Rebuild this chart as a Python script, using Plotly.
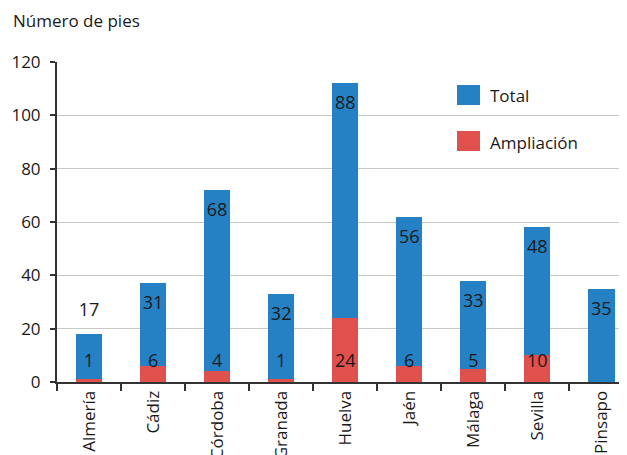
import plotly.graph_objects as go

provincias = ["Almería", "Cádiz", "Córdoba", "Granada", "Huelva", "Jaén", "Málaga", "Sevilla", "Pinsapo"]
ampliacion = [1, 6, 4, 1, 24, 6, 5, 10, 0]
total = [17, 31, 68, 32, 88, 56, 33, 48, 35]
y_ticks = [0, 20, 40, 60, 80, 100, 120]

BLUE = "#2581c4"
RED = "#e0514d"
TXT = "#1a1a1a"
FONT = "Open Sans"

fig = go.Figure()
fig.add_trace(go.Bar(x=provincias, y=ampliacion, name="Ampliación", marker_color=RED,
                     marker_line_width=0, showlegend=False))
fig.add_trace(go.Bar(x=provincias, y=total, name="Total", marker_color=BLUE,
                     marker_line_width=0, showlegend=False))

# value labels
red_pos = [7.5 for _ in ampliacion]
red_txt = [str(v) if v > 0 else "" for v in ampliacion]
blue_pos = []
for a, t in zip(ampliacion, total):
    top = a + t
    p = top - 8
    if a > 0 and p - 7.5 < 8:
        p = top + 8.5
    blue_pos.append(p)

fig.add_trace(go.Scatter(x=provincias, y=red_pos, text=red_txt, mode="text",
                         textfont=dict(size=18, color=TXT, family=FONT), showlegend=False,
                         hoverinfo="skip", cliponaxis=False))
fig.add_trace(go.Scatter(x=provincias, y=blue_pos, text=[str(v) for v in total], mode="text",
                         textfont=dict(size=18, color=TXT, family=FONT), showlegend=False,
                         hoverinfo="skip", cliponaxis=False))

# page body has an 8px margin; figure coordinates are offset by it
OFF = 8
W, H = 627 - OFF, 455 - OFF
L, T = 57 - OFF, 62 - OFF
B = H - (382 - OFF)

def px_x(x):
    return (x - OFF - L) / (W - L)

def px_y(y):
    return 1 - (y - OFF - T) / (H - T - B)

shapes = []
annotations = []
for (name, col, yc) in [("Total", BLUE, 95), ("Ampliación", RED, 141)]:
    shapes.append(dict(type="rect", xref="paper", yref="paper",
                       x0=px_x(457), x1=px_x(480), y0=px_y(yc - 10), y1=px_y(yc + 10),
                       fillcolor=col, line_width=0))
    annotations.append(dict(text=name, xref="paper", yref="paper", x=px_x(488), y=px_y(yc + 1),
                            xanchor="left", yanchor="middle", showarrow=False,
                            font=dict(size=17, color=TXT, family=FONT)))

fig.update_layout(
    width=W, height=H,
    margin=dict(l=L, r=0, t=T, b=B, autoexpand=False),
    barmode="stack", bargap=0.59,
    plot_bgcolor="white", paper_bgcolor="white",
    font=dict(family=FONT, size=16, color=TXT),
    title=dict(text="Número de pies", xref="container", yref="container",
               x=(13 - OFF) / W, y=1 - (21 - OFF) / H, xanchor="left", yanchor="middle",
               font=dict(size=17, color=TXT, family=FONT)),
    shapes=shapes, annotations=annotations,
    showlegend=False,
)
fig.update_xaxes(range=[-0.5, 8.4], tickangle=-90, tickson="boundaries", ticks="outside",
                 ticklen=7, tickwidth=1.5, tickcolor="#333", showline=True, linecolor="#333",
                 linewidth=2, showgrid=False, automargin=False,
                 tickfont=dict(size=17, color=TXT, family=FONT))
fig.update_yaxes(range=[0, 120], tickvals=y_ticks, ticks="outside", ticklen=5, tickwidth=1.5,
                 tickcolor="#333", showline=True, linecolor="#333", linewidth=2,
                 showgrid=True, gridcolor="#c8c8c8", gridwidth=1, zeroline=False,
                 automargin=False, ticklabelstandoff=6,
                 tickfont=dict(size=17, color=TXT, family=FONT))

fig.write_html("out.html")
